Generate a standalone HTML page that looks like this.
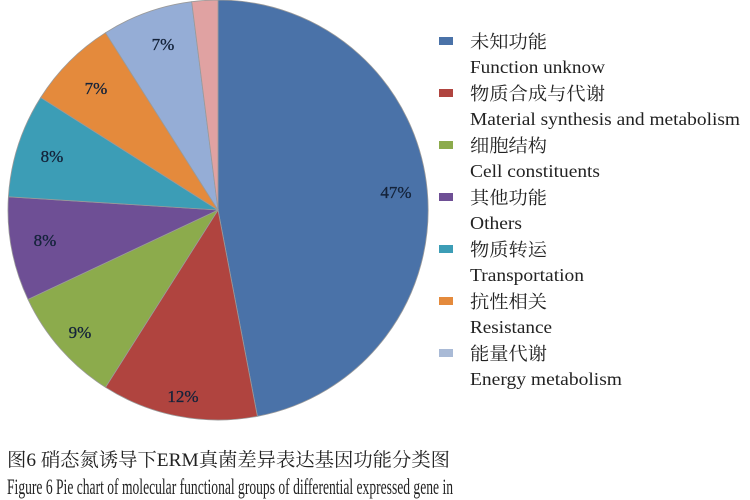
<!DOCTYPE html>
<html><head><meta charset="utf-8"><style>
html,body{margin:0;padding:0;background:#fff;width:750px;height:500px;overflow:hidden}
</style></head><body>
<svg width="750" height="500" viewBox="0 0 750 500" xmlns="http://www.w3.org/2000/svg">
<g stroke="#9a9a9a" stroke-width="0.8">
<path d="M218,210 L218,0 A210,210 0 0 1 257.4,416.3 Z" fill="#4a72a8"/>
<path d="M218,210 L257.4,416.3 A210,210 0 0 1 105.5,387.3 Z" fill="#b0443f"/>
<path d="M218,210 L105.5,387.3 A210,210 0 0 1 28.0,299.4 Z" fill="#8cab4c"/>
<path d="M218,210 L28.0,299.4 A210,210 0 0 1 8.4,196.8 Z" fill="#6e4f95"/>
<path d="M218,210 L8.4,196.8 A210,210 0 0 1 40.7,97.5 Z" fill="#3c9db6"/>
<path d="M218,210 L40.7,97.5 A210,210 0 0 1 105.5,32.7 Z" fill="#e48a3c"/>
<path d="M218,210 L105.5,32.7 A210,210 0 0 1 191.7,1.7 Z" fill="#95add6"/>
<path d="M218,210 L191.7,1.7 A210,210 0 0 1 218,0 Z" fill="#e0a2a2"/>
</g>
<g font-family="Liberation Serif, serif" font-size="17" fill="#14233a" text-anchor="middle" stroke="#14233a" stroke-width="0.3">
<text x="396" y="198">47%</text>
<text x="183" y="402">12%</text>
<text x="80" y="338">9%</text>
<text x="45" y="246">8%</text>
<text x="52" y="162">8%</text>
<text x="96" y="94">7%</text>
<text x="163" y="50">7%</text>
</g>
<g>
<rect x="439" y="37" width="14" height="8" fill="#4a72a8"/>
<rect x="439" y="89" width="14" height="8" fill="#b0443f"/>
<rect x="439" y="141" width="14" height="8" fill="#8cab4c"/>
<rect x="439" y="193" width="14" height="8" fill="#6e4f95"/>
<rect x="439" y="245" width="14" height="8" fill="#3c9db6"/>
<rect x="439" y="297" width="14" height="8" fill="#e48a3c"/>
<rect x="439" y="349" width="14" height="8" fill="#a9bad6"/>
</g>
<g font-family="Liberation Serif, 'Noto Serif CJK SC', serif" font-size="18" fill="#222">
<text x="470" y="48" textLength="77" lengthAdjust="spacingAndGlyphs">未知功能</text>
<text x="470" y="73" textLength="135" lengthAdjust="spacingAndGlyphs">Function unknow</text>
<text x="470" y="100" textLength="135" lengthAdjust="spacingAndGlyphs">物质合成与代谢</text>
<text x="470" y="125" textLength="270" lengthAdjust="spacingAndGlyphs">Material synthesis and metabolism</text>
<text x="470" y="152" textLength="77" lengthAdjust="spacingAndGlyphs">细胞结构</text>
<text x="470" y="177" textLength="130" lengthAdjust="spacingAndGlyphs">Cell constituents</text>
<text x="470" y="204" textLength="77" lengthAdjust="spacingAndGlyphs">其他功能</text>
<text x="470" y="229" textLength="52" lengthAdjust="spacingAndGlyphs">Others</text>
<text x="470" y="256" textLength="77" lengthAdjust="spacingAndGlyphs">物质转运</text>
<text x="470" y="281" textLength="114" lengthAdjust="spacingAndGlyphs">Transportation</text>
<text x="470" y="308" textLength="77" lengthAdjust="spacingAndGlyphs">抗性相关</text>
<text x="470" y="333" textLength="82" lengthAdjust="spacingAndGlyphs">Resistance</text>
<text x="470" y="360" textLength="77" lengthAdjust="spacingAndGlyphs">能量代谢</text>
<text x="470" y="385" textLength="152" lengthAdjust="spacingAndGlyphs">Energy metabolism</text>
</g>
<g font-family="Liberation Serif, 'Noto Serif CJK SC', serif" fill="#222">
<text x="7" y="466" font-size="19" textLength="443" lengthAdjust="spacingAndGlyphs">图6 硝态氮诱导下ERM真菌差异表达基因功能分类图</text>
<text x="7" y="494" font-size="22" textLength="446" lengthAdjust="spacingAndGlyphs">Figure 6 Pie chart of molecular functional groups of differential expressed gene in</text>
</g>
</svg>
</body></html>
